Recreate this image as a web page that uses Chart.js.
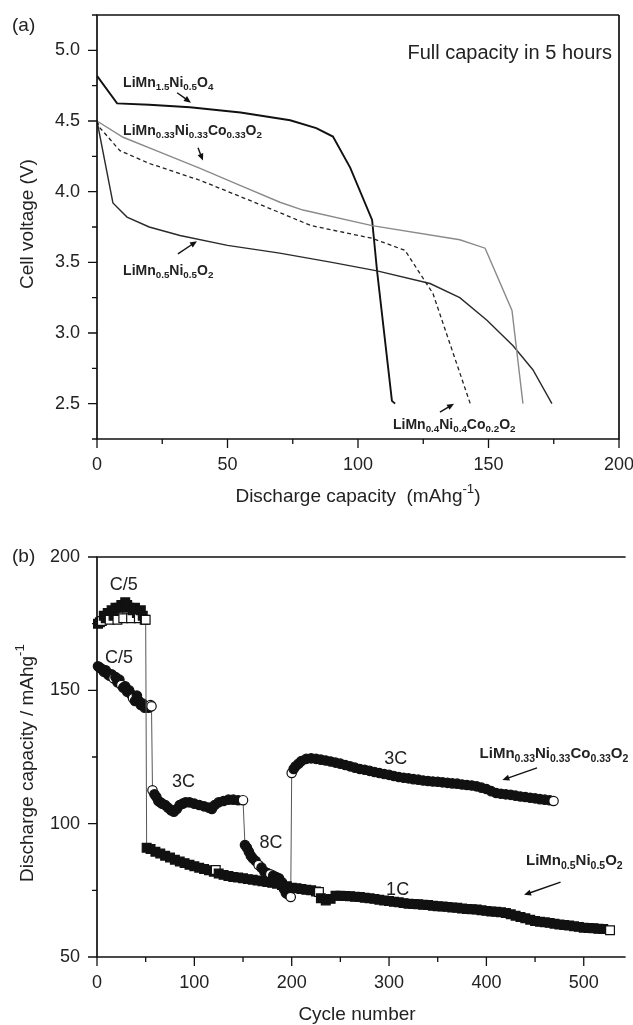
<!DOCTYPE html>
<html>
<head>
<meta charset="utf-8">
<script src="https://cdn.jsdelivr.net/npm/chart.js@4/dist/chart.umd.min.js"></script>
<style>
  html, body { margin: 0; padding: 0; background: #fff; overflow: hidden; }
  canvas { position: absolute; left: 0; }
  #chartA { top: 0; }
  #chartB { top: 520px; }
</style>
</head>
<body>
<canvas id="chartA" width="633" height="520"></canvas>
<canvas id="chartB" width="633" height="505"></canvas>
<script>
// (a) discharge curves at C/5: capacity (mAh/g) vs cell voltage (V)
const capLMNO4 = [0, 7.7, 20, 35.6, 55, 74, 84, 90.4, 97, 105.4, 107.3, 113, 114.2];
const voltLMNO4 = [4.82, 4.625, 4.615, 4.597, 4.56, 4.505, 4.45, 4.39, 4.17, 3.80, 3.44, 2.52, 2.50];

const capNMC333 = [0, 10, 24.1, 39.5, 54.8, 70.1, 78.9, 105.4, 139, 148.7, 149.4, 159, 163.2];
const voltNMC333 = [4.50, 4.385, 4.28, 4.165, 4.045, 3.925, 3.87, 3.76, 3.66, 3.60, 3.57, 3.16, 2.50];

const capNMC442 = [0, 1.2, 8.8, 20, 39.5, 65, 82, 105.4, 118, 128.7, 143];
const voltNMC442 = [4.50, 4.45, 4.29, 4.20, 4.08, 3.89, 3.76, 3.67, 3.585, 3.28, 2.50];

const capNMO = [0, 6.1, 11.5, 20, 31.8, 50, 70, 90, 107.3, 127.6, 139, 149.4, 159.4, 167, 174.3];
const voltNMO = [4.50, 3.92, 3.82, 3.75, 3.69, 3.62, 3.565, 3.50, 3.44, 3.35, 3.25, 3.09, 2.91, 2.74, 2.50];

// (b) cycling: LiMn0.5Ni0.5O2 (squares) C/5 then 1C
const sqCycles = [
  1, 3, 5, 7, 9, 11, 13, 15, 17, 19,
  21, 23, 25, 27, 29, 31, 33, 35, 37, 39,
  41, 43, 45, 47, 49, 50,
  51, 55, 60, 65, 70, 75, 80, 85, 90, 95,
  100, 105, 110, 115, 120, 122, 125, 130, 135, 140,
  145, 150, 155, 160, 165, 170, 175, 180, 185, 190,
  195, 200, 205, 210, 215, 220, 225, 228, 230, 235,
  240, 245, 250, 255, 260, 265, 270, 275, 280, 285,
  290, 295, 300, 305, 310, 315, 320, 325, 330, 335,
  340, 345, 350, 355, 360, 365, 370, 375, 380, 385,
  390, 395, 400, 405, 410, 415, 420, 425, 430, 435,
  440, 445, 450, 455, 460, 465, 470, 475, 480, 485,
  490, 495, 500, 505, 510, 515, 520, 527
];
const sqCap = [
  175, 175.5, 176, 178, 177, 179, 176.5, 180, 178, 181,
  176.5, 181, 182, 177, 183, 182, 181, 177, 180, 181,
  179, 177, 180, 178, 176.5, 176.5,
  91, 90.5, 89.5, 88.8, 88, 87.3, 86.5, 85.8, 85.2, 84.6,
  84, 83.5, 83, 82.5, 82, 82.6, 81.3, 80.8, 80.4, 80,
  79.8, 79.5, 79.2, 79, 78.7, 78.4, 78.1, 77.8, 77.5, 77,
  76.5, 76, 75.8, 75.5, 75.2, 75, 74.6, 74.4, 72, 71.2,
  71.8, 73, 73, 72.9, 72.8, 72.6, 72.5, 72.2, 72, 71.8,
  71.5, 71.2, 71, 70.7, 70.5, 70.2, 70, 69.9, 69.8, 69.6,
  69.5, 69.2, 69, 68.9, 68.8, 68.6, 68.5, 68.2, 68, 67.9,
  67.8, 67.5, 67.3, 67.1, 67, 66.8, 66.5, 66, 65.5, 65,
  64.5, 64, 63.5, 63.2, 63, 62.8, 62.5, 62.2, 62, 61.8,
  61.5, 61.3, 61, 60.9, 60.8, 60.6, 60.5, 60
];

// (b) cycling: LiMn0.33Ni0.33Co0.33O2 (circles) C/5, 3C, 8C, 3C
const ciCycles = [
  1, 3, 5, 7, 9, 11, 13, 15, 17, 19,
  21, 23, 25, 27, 29, 31, 33, 35, 37, 39,
  41, 43, 45, 47, 49, 51, 53, 55, 56,
  57, 59, 61, 63, 65, 67, 70, 73, 76, 79,
  82, 85, 88, 91, 95, 100, 105, 110, 115, 118,
  121, 125, 130, 135, 140, 145, 150,
  152, 154, 156, 158, 160, 163, 166, 169, 172, 175,
  178, 181, 184, 187, 190, 192, 194, 196, 199,
  200, 202, 204, 207, 210, 215, 220, 225, 230, 235,
  240, 245, 250, 255, 260, 265, 270, 275, 280, 285,
  290, 295, 300, 305, 310, 315, 320, 325, 330, 335,
  340, 345, 350, 355, 360, 365, 370, 375, 380, 385,
  390, 395, 400, 405, 410, 415, 420, 425, 430, 435,
  440, 445, 450, 455, 460, 465, 469
];
const ciCap = [
  159, 158.5, 158, 157, 157.5, 156, 155.5, 156, 154.5, 155,
  153, 154, 152, 151, 151.5, 149.5, 150, 148.5, 147, 146,
  148, 146, 144.5, 145, 143.5, 144, 143.5, 144.5, 144,
  112.5, 111, 110, 108.5, 108, 107.5, 107, 106, 105, 104.5,
  105.5, 107, 107.5, 108, 108, 107.5, 107, 106.5, 106, 105.5,
  107, 108, 108.5, 109, 109, 108.8, 108.8,
  92, 91, 89.5, 88, 87, 86, 84.5, 83.5, 82, 81.5,
  81, 80.5, 80, 79.5, 78, 75.5, 74, 73.5, 72.5,
  119, 120.5, 121.5, 122.5, 123.5, 124.3, 124.5, 124.3, 124, 123.7,
  123.3, 122.9, 122.5, 122, 121.5, 121, 120.5, 120.2, 119.8, 119.4,
  119, 118.6, 118.3, 117.9, 117.5, 117.2, 117, 116.7, 116.5, 116.2,
  116, 115.8, 115.7, 115.5, 115.3, 115.1, 115, 114.7, 114.5, 114.3,
  114, 113.5, 113, 112.2, 111.5, 111.2, 111, 110.8, 110.5, 110.2,
  110, 109.7, 109.5, 109.2, 109, 108.8, 108.5
];

// markers that show up hollow
const openSq = [5, 13, 21, 27, 35, 43, 50, 122, 228, 527];
const openCi = [17, 25, 37, 55, 56, 57, 150, 166, 178, 199, 200, 469];

const FONT = '"Liberation Sans", Arial, Helvetica, sans-serif';
Chart.defaults.font.family = FONT;
Chart.defaults.color = '#222';

const pts = (xs, ys) => xs.map((x, i) => ({x: x, y: ys[i]}));

// "A_{sub}B^{sup}" -> runs of normal / subscript / superscript text
function runs(str) {
  const out = [];
  const re = /([_^])\{([^}]*)\}|([^_^]+)/g;
  let m;
  while ((m = re.exec(str))) {
    if (m[3]) out.push({t: m[3], k: 0});
    else out.push({t: m[2], k: m[1] === '_' ? -1 : 1});
  }
  return out;
}

function drawRich(ctx, str, x, y, size, bold, align) {
  const wt = bold ? 'bold ' : '';
  const segs = runs(str).map(p => {
    const s = p.k ? size * 0.7 : size;
    ctx.font = wt + s + 'px ' + FONT;
    return {t: p.t, k: p.k, s: s, w: ctx.measureText(p.t).width};
  });
  const total = segs.reduce((a, b) => a + b.w, 0);
  let cx = align === 'center' ? x - total / 2 : align === 'right' ? x - total : x;
  ctx.textAlign = 'left';
  ctx.textBaseline = 'middle';
  segs.forEach(p => {
    ctx.font = wt + p.s + 'px ' + FONT;
    const dy = p.k === -1 ? size * 0.32 : p.k === 1 ? -size * 0.38 : 0;
    ctx.fillText(p.t, cx, y + dy);
    cx += p.w;
  });
}

function arrow(ctx, x1, y1, x2, y2) {
  const ang = Math.atan2(y2 - y1, x2 - x1);
  const L = 7, W = 3;
  ctx.beginPath();
  ctx.moveTo(x1, y1);
  ctx.lineTo(x2 - L * 0.6 * Math.cos(ang), y2 - L * 0.6 * Math.sin(ang));
  ctx.stroke();
  ctx.beginPath();
  ctx.moveTo(x2, y2);
  ctx.lineTo(x2 - L * Math.cos(ang) + W * Math.sin(ang), y2 - L * Math.sin(ang) - W * Math.cos(ang));
  ctx.lineTo(x2 - L * Math.cos(ang) - W * Math.sin(ang), y2 - L * Math.sin(ang) + W * Math.cos(ang));
  ctx.closePath();
  ctx.fill();
}

// axis frame, tick marks, titles and notes
const framePlugin = {
  id: 'frame',
  afterDraw(chart, args, o) {
    const {ctx, chartArea: a, scales: {x, y}} = chart;
    ctx.save();
    ctx.strokeStyle = '#111';
    ctx.fillStyle = '#111';
    ctx.lineWidth = 1.7;
    ctx.beginPath();
    ctx.moveTo(a.right, a.top);
    ctx.lineTo(a.left, a.top);
    ctx.lineTo(a.left, a.bottom);
    ctx.lineTo(a.right, a.bottom);
    if (o.closed) ctx.lineTo(a.right, a.top);
    ctx.stroke();

    ctx.lineWidth = 1.3;
    ctx.beginPath();
    const hx = o.xStep / 2, hy = o.yStep / 2;
    for (let k = Math.ceil(x.min / hx - 1e-6); k <= Math.floor(x.max / hx + 1e-6); k++) {
      const px = x.getPixelForValue(k * hx);
      ctx.moveTo(px, a.bottom);
      ctx.lineTo(px, a.bottom + (k % 2 === 0 ? 9 : 5));
    }
    for (let k = Math.ceil(y.min / hy - 1e-6); k <= Math.floor(y.max / hy + 1e-6); k++) {
      const py = y.getPixelForValue(k * hy);
      ctx.moveTo(a.left, py);
      ctx.lineTo(a.left - (k % 2 === 0 ? 9 : 5), py);
    }
    ctx.stroke();

    ctx.fillStyle = '#222';
    (o.titles || []).forEach(t => {
      ctx.save();
      ctx.translate(t.x, t.y);
      if (t.rotate) ctx.rotate(-Math.PI / 2);
      drawRich(ctx, t.text, 0, 0, t.size, false, t.align || 'center');
      ctx.restore();
    });
    (o.notes || []).forEach(n => {
      drawRich(ctx, n.text, x.getPixelForValue(n.x), y.getPixelForValue(n.y), n.size, n.bold, n.align || 'left');
    });
    ctx.fillStyle = '#111';
    ctx.strokeStyle = '#111';
    ctx.lineWidth = 1.4;
    (o.arrows || []).forEach(r => {
      arrow(ctx, x.getPixelForValue(r[0]), y.getPixelForValue(r[1]),
                 x.getPixelForValue(r[2]), y.getPixelForValue(r[3]));
    });
    ctx.restore();
  }
};

function fixTicks(values) {
  return s => { s.ticks = values.map(v => ({value: v})); };
}

function curve(xs, ys, color, width, dash) {
  return {
    data: pts(xs, ys),
    showLine: true,
    borderColor: color,
    borderWidth: width,
    borderDash: dash || [],
    pointRadius: 0,
    tension: 0
  };
}

new Chart(document.getElementById('chartA'), {
  type: 'scatter',
  data: {
    datasets: [
      curve(capNMC333, voltNMC333, '#8a8a8a', 1.4),
      curve(capNMC442, voltNMC442, '#222', 1.3, [4, 3]),
      curve(capNMO, voltNMO, '#2a2a2a', 1.4),
      curve(capLMNO4, voltLMNO4, '#111', 1.9)
    ]
  },
  options: {
    responsive: false,
    animation: false,
    layout: {padding: {top: 15, right: 14, left: 0, bottom: 0}},
    plugins: {
      legend: {display: false},
      tooltip: {enabled: false},
      frame: {
        closed: true, xStep: 50, yStep: 0.5,
        titles: [
          {text: '(a)', x: 12, y: 26, size: 19, align: 'left'},
          {text: 'Cell voltage (V)', x: 28, y: 224, size: 19, rotate: true},
          {text: 'Discharge capacity  (mAhg^{-1})', x: 358, y: 497, size: 19}
        ],
        notes: [
          {text: 'Full capacity in 5 hours', x: 197.3, y: 4.975, size: 20, align: 'right'},
          {text: 'LiMn_{1.5}Ni_{0.5}O_{4}', x: 10, y: 4.77, size: 14, bold: true},
          {text: 'LiMn_{0.33}Ni_{0.33}Co_{0.33}O_{2}', x: 10, y: 4.43, size: 14, bold: true},
          {text: 'LiMn_{0.5}Ni_{0.5}O_{2}', x: 10, y: 3.44, size: 14, bold: true},
          {text: 'LiMn_{0.4}Ni_{0.4}Co_{0.2}O_{2}', x: 113.4, y: 2.35, size: 14, bold: true}
        ],
        arrows: [
          [30.7, 4.70, 36, 4.63],
          [38.7, 4.31, 40.6, 4.22],
          [31, 3.56, 38.3, 3.65],
          [131.4, 2.44, 136.8, 2.50]
        ]
      }
    },
    scales: {
      x: {
        type: 'linear', min: 0, max: 200,
        grid: {display: false, drawTicks: false},
        border: {display: false},
        afterBuildTicks: fixTicks([0, 50, 100, 150, 200]),
        afterFit: s => { s.height = 81; s.paddingLeft = 0; s.paddingRight = 0; },
        ticks: {font: {size: 18}, padding: 15, color: '#222', maxRotation: 0}
      },
      y: {
        type: 'linear', min: 2.25, max: 5.25,
        grid: {display: false, drawTicks: false},
        border: {display: false},
        afterBuildTicks: fixTicks([2.5, 3.0, 3.5, 4.0, 4.5, 5.0]),
        afterFit: s => { s.width = 97; s.paddingTop = 0; s.paddingBottom = 0; },
        ticks: {font: {size: 18}, padding: 17, color: '#222', callback: v => v.toFixed(1)}
      }
    }
  },
  plugins: [framePlugin]
});

function markers(xs, ys, style, radius, open) {
  return {
    data: pts(xs, ys),
    showLine: true,
    borderColor: '#555',
    borderWidth: 1,
    pointStyle: style,
    pointRadius: radius,
    pointBorderColor: '#111',
    pointBorderWidth: 1.2,
    pointBackgroundColor: c => open.includes(xs[c.dataIndex]) ? '#fff' : '#111',
    clip: false
  };
}

new Chart(document.getElementById('chartB'), {
  type: 'scatter',
  data: {
    datasets: [
      markers(sqCycles, sqCap, 'rect', 6.2, openSq),
      markers(ciCycles, ciCap, 'circle', 4.7, openCi)
    ]
  },
  options: {
    responsive: false,
    animation: false,
    layout: {padding: {top: 37, right: 0, left: 0, bottom: 0}},
    plugins: {
      legend: {display: false},
      tooltip: {enabled: false},
      frame: {
        closed: false, xStep: 100, yStep: 50,
        titles: [
          {text: '(b)', x: 12, y: 37, size: 19, align: 'left'},
          {text: 'Discharge capacity / mAhg^{-1}', x: 28, y: 243, size: 19, rotate: true},
          {text: 'Cycle number', x: 357, y: 495, size: 19}
        ],
        notes: [
          {text: 'C/5', x: 13.2, y: 189.5, size: 18},
          {text: 'C/5', x: 8.1, y: 162, size: 18},
          {text: '3C', x: 77, y: 115.6, size: 18},
          {text: '8C', x: 167, y: 92.8, size: 18},
          {text: '3C', x: 295, y: 124.3, size: 18},
          {text: '1C', x: 297, y: 75.1, size: 18},
          {text: 'LiMn_{0.33}Ni_{0.33}Co_{0.33}O_{2}', x: 393, y: 126.1, size: 15, bold: true},
          {text: 'LiMn_{0.5}Ni_{0.5}O_{2}', x: 440.7, y: 86, size: 15, bold: true}
        ],
        arrows: [
          [452, 120.9, 416.4, 116.4],
          [476.2, 78.1, 438.7, 73.3]
        ]
      }
    },
    scales: {
      x: {
        type: 'linear', min: 0, max: 543,
        grid: {display: false, drawTicks: false},
        border: {display: false},
        afterBuildTicks: fixTicks([0, 100, 200, 300, 400, 500]),
        afterFit: s => { s.height = 68; s.paddingLeft = 0; s.paddingRight = 0; },
        ticks: {font: {size: 18}, padding: 15, color: '#222', maxRotation: 0}
      },
      y: {
        type: 'linear', min: 50, max: 200,
        grid: {display: false, drawTicks: false},
        border: {display: false},
        afterBuildTicks: fixTicks([50, 100, 150, 200]),
        afterFit: s => { s.width = 97; s.paddingTop = 0; s.paddingBottom = 0; },
        ticks: {font: {size: 18}, padding: 17, color: '#222'}
      }
    }
  },
  plugins: [framePlugin]
});
</script>
</body>
</html>
